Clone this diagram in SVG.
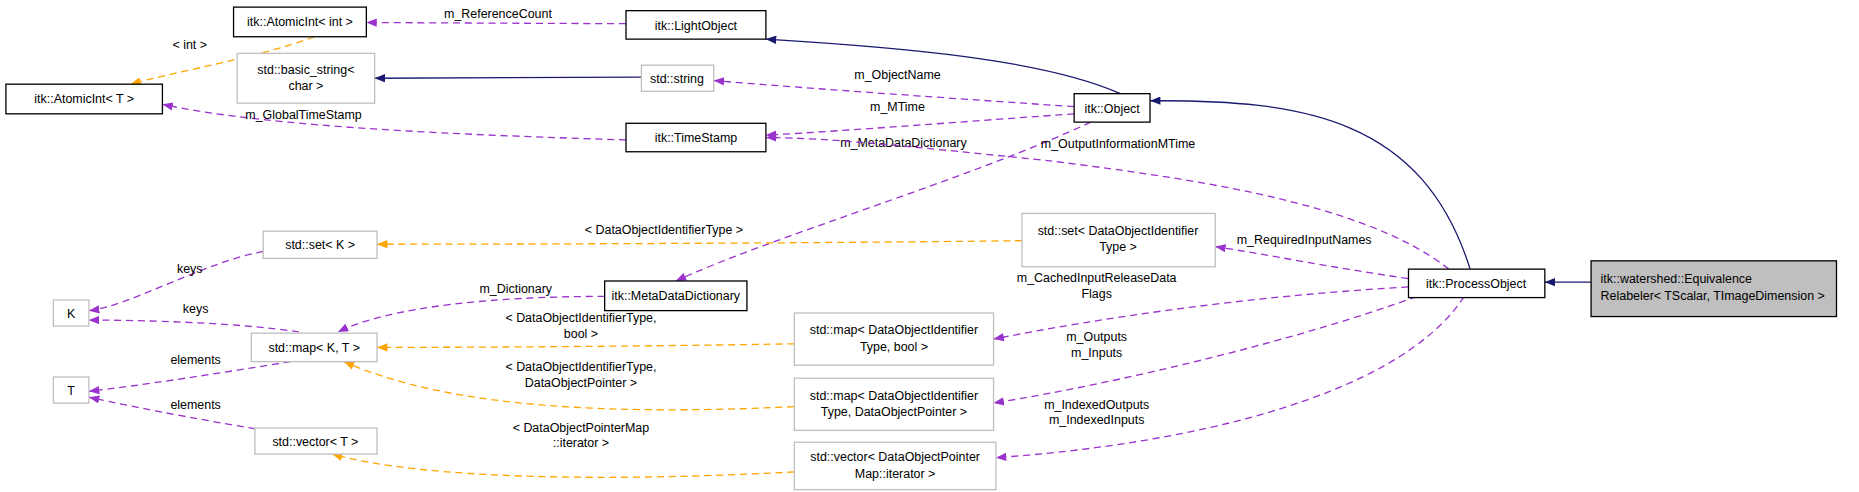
<svg xmlns="http://www.w3.org/2000/svg" width="1859" height="492" viewBox="0 0 1859 492">
<style>
text{font-family:"Liberation Sans",Arial,sans-serif;font-size:10.5px;fill:#000;text-anchor:middle}
.b{fill:#fff;stroke:#000;stroke-width:1.1}
.g{fill:#fff;stroke:#bfbfbf;stroke-width:1.1}
.s{fill:#bfbfbf;stroke:#000;stroke-width:1.1}
.n{fill:none;stroke:#191970;stroke-width:1.1;marker-end:url(#an)}
.p{fill:none;stroke:#9a32cd;stroke-width:1.1;stroke-dasharray:6,4;marker-end:url(#ap)}
.o{fill:none;stroke:#ffa500;stroke-width:1.1;stroke-dasharray:6,4;marker-end:url(#ao)}
</style>
<defs>
<marker id="an" viewBox="0 0 10 8" refX="10" refY="4" markerWidth="9" markerHeight="7" markerUnits="userSpaceOnUse" orient="auto"><path d="M0,0L10,4L0,8z" fill="#191970"/></marker>
<marker id="ap" viewBox="0 0 10 8" refX="10" refY="4" markerWidth="9" markerHeight="7" markerUnits="userSpaceOnUse" orient="auto"><path d="M0,0L10,4L0,8z" fill="#9a32cd"/></marker>
<marker id="ao" viewBox="0 0 10 8" refX="10" refY="4" markerWidth="9" markerHeight="7" markerUnits="userSpaceOnUse" orient="auto"><path d="M0,0L10,4L0,8z" fill="#ffa500"/></marker>
</defs>
<rect width="1859" height="492" fill="#fff"/>
<g transform="scale(1.1856)">
<g id="connectors">
<path class="p" d="M528,20 L309,19"/><text x="420" y="15">m_ReferenceCount</text>
<path class="o" d="M265,31 C220,48 150,60 110,71"/><text x="160" y="41">&lt; int &gt;</text>
<path class="n" d="M541,65 L316,66"/>
<path class="n" d="M945,79 C880,50 760,40 646,33"/>
<path class="p" d="M906,90 C820,84 700,76 602,68"/><text x="757" y="67">m_ObjectName</text>
<path class="p" d="M906,96 C820,102 720,110 646,114"/><text x="757" y="94">m_MTime</text>
<path class="p" d="M528,118 C400,114 230,108 137,88"/><text x="256" y="100">m_GlobalTimeStamp</text>
<path class="p" d="M920,103 C820,150 650,200 570,237"/><text x="762" y="124">m_MetaDataDictionary</text>
<path class="n" d="M1240,227 C1200,100 1100,84 970,85"/>
<path class="p" d="M1222,227 C1150,170 1000,150 880,135 C780,125 700,116 646,116"/><text x="943" y="125">m_OutputInformationMTime</text>
<path class="p" d="M1188,235 C1120,225 1070,215 1025,208"/><text x="1100" y="206">m_RequiredInputNames</text>
<path class="p" d="M1188,242 C1050,250 930,268 838,286"/><text x="925" y="238">m_CachedInputReleaseData</text><text x="925" y="251">Flags</text>
<path class="p" d="M1195,250 C1100,285 950,322 838,340"/><text x="925" y="288">m_Outputs</text><text x="925" y="301">m_Inputs</text>
<path class="p" d="M1235,250 C1180,335 1000,375 840,386"/><text x="925" y="345">m_IndexedOutputs</text><text x="925" y="358">m_IndexedInputs</text>
<path class="o" d="M862,203 C700,205 450,206 318,206"/><text x="560" y="197">&lt; DataObjectIdentifierType &gt;</text>
<path class="p" d="M222,212 C170,222 110,258 75,262"/><text x="160" y="230">keys</text>
<path class="p" d="M252,280 C200,272 120,270 75,270"/><text x="165" y="264">keys</text>
<path class="p" d="M510,250 C420,250 330,258 285,280"/><text x="435" y="247">m_Dictionary</text>
<path class="o" d="M670,290 C550,292 420,293 318,293"/><text x="490" y="272">&lt; DataObjectIdentifierType,</text><text x="490" y="285">bool &gt;</text>
<path class="o" d="M670,343 C520,350 380,345 290,305"/><text x="490" y="313">&lt; DataObjectIdentifierType,</text><text x="490" y="326">DataObjectPointer &gt;</text>
<path class="p" d="M245,305 C190,314 120,325 75,330"/><text x="165" y="307">elements</text>
<path class="p" d="M255,368 C190,358 120,345 75,335"/><text x="165" y="345">elements</text>
<path class="o" d="M670,398 C520,406 360,405 280,383"/><text x="490" y="364">&lt; DataObjectPointerMap</text><text x="490" y="377">::iterator &gt;</text>
<path class="n" d="M1342,238 L1303,238"/>
</g>
<g id="atomicint_int"><rect class="b" x="197" y="6" width="112" height="25"/><text x="253" y="22">itk::AtomicInt&lt; int &gt;</text></g>
<g id="lightobject"><rect class="b" x="528" y="9" width="118" height="24"/><text x="587" y="25">itk::LightObject</text></g>
<g id="basic_string"><rect class="g" x="200" y="45" width="116" height="42"/><text x="258" y="62">std::basic_string&lt;</text><text x="258" y="76">char &gt;</text></g>
<g id="stdstring"><rect class="g" x="541" y="55" width="61" height="22"/><text x="571" y="70">std::string</text></g>
<g id="atomicint_t"><rect class="b" x="5" y="71" width="132" height="25"/><text x="71" y="87">itk::AtomicInt&lt; T &gt;</text></g>
<g id="timestamp"><rect class="b" x="528" y="104" width="118" height="24"/><text x="587" y="120">itk::TimeStamp</text></g>
<g id="object"><rect class="b" x="906" y="79" width="64" height="24"/><text x="938" y="95">itk::Object</text></g>
<g id="set_k"><rect class="g" x="222" y="195" width="96" height="23"/><text x="270" y="210">std::set&lt; K &gt;</text></g>
<g id="set_doit"><rect class="g" x="862" y="180" width="163" height="45"/><text x="943" y="198">std::set&lt; DataObjectIdentifier</text><text x="943" y="212">Type &gt;</text></g>
<g id="k"><rect class="g" x="45" y="253" width="30" height="22"/><text x="60" y="268">K</text></g>
<g id="metadatadictionary"><rect class="b" x="510" y="237" width="120" height="25"/><text x="570" y="253">itk::MetaDataDictionary</text></g>
<g id="map_kt"><rect class="g" x="212" y="281" width="106" height="24"/><text x="265" y="297">std::map&lt; K, T &gt;</text></g>
<g id="t"><rect class="g" x="45" y="318" width="30" height="22"/><text x="60" y="333">T</text></g>
<g id="processobject"><rect class="b" x="1188" y="227" width="115" height="24"/><text x="1245" y="243">itk::ProcessObject</text></g>
<g id="equivalence"><rect class="s" x="1342" y="220" width="207" height="47"/><text x="1350" y="239" style="text-anchor:start">itk::watershed::Equivalence</text><text x="1350" y="253" style="text-anchor:start">Relabeler&lt; TScalar, TImageDimension &gt;</text></g>
<g id="map_doit_bool"><rect class="g" x="670" y="264" width="168" height="44"/><text x="754" y="282">std::map&lt; DataObjectIdentifier</text><text x="754" y="296">Type, bool &gt;</text></g>
<g id="map_doit_dop"><rect class="g" x="670" y="319" width="168" height="44"/><text x="754" y="337">std::map&lt; DataObjectIdentifier</text><text x="754" y="351">Type, DataObjectPointer &gt;</text></g>
<g id="vector_t"><rect class="g" x="215" y="361" width="103" height="22"/><text x="266" y="376">std::vector&lt; T &gt;</text></g>
<g id="vector_dopm"><rect class="g" x="670" y="373" width="170" height="40"/><text x="755" y="389">std::vector&lt; DataObjectPointer</text><text x="755" y="403">Map::iterator &gt;</text></g>
</g>
</svg>
